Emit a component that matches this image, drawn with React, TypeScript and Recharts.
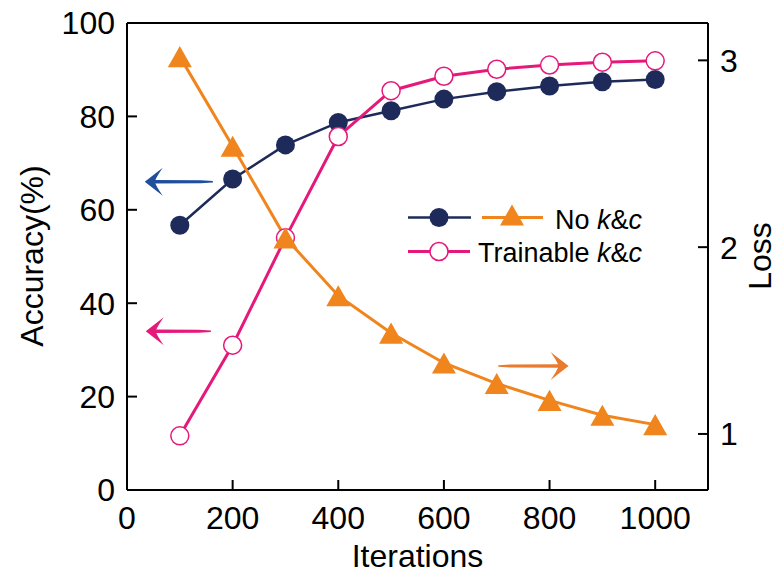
import React from 'react';
import { LineChart, Line, XAxis, YAxis, ReferenceLine, Legend, Label } from 'recharts';

const iterations = [100, 200, 300, 400, 500, 600, 700, 800, 900, 1000];
const accNoKC = [56.7, 66.6, 73.9, 78.7, 81.2, 83.7, 85.3, 86.5, 87.4, 87.9];
const accTrainable = [11.6, 31.0, 54.0, 75.7, 85.5, 88.6, 90.1, 91.0, 91.6, 91.9];
const lossNoKC = [3.02, 2.54, 2.05, 1.74, 1.54, 1.38, 1.27, 1.18, 1.1, 1.05];

const xTicks = [0, 200, 400, 600, 800, 1000];
const accTicks = [0, 20, 40, 60, 80, 100];
const lossTicks = [1, 2, 3];

const NAVY = '#1e2b5a';
const ORANGE = '#f0851e';
const PINK = '#e5197a';
const FONT = '"Liberation Sans", Arial, sans-serif';

const data = iterations.map((it, i) => ({
  iter: it,
  accNo: accNoKC[i],
  accTrain: accTrainable[i],
  loss: lossNoKC[i],
}));

// little swoosh arrows pointing each curve at its axis
const arrowShape = (color: string) => (props: any) => {
  const { x1, y1, x2, y2 } = props;
  const dx = x1 - x2;
  const dy = y1 - y2;
  const len = Math.hypot(dx, dy) || 1;
  const ux = dx / len;
  const uy = dy / len;
  const nx = -uy;
  const ny = ux;
  const L = 18;
  const W = 14;
  const notch = 10;
  const p = (a: number, b: number) => `${x1 - ux * a + nx * b},${y1 - uy * a + ny * b}`;
  const head = `M${p(0, 0)} L${p(L, W)} Q${p(notch + 1, 4)} ${p(notch, 0)} Q${p(notch + 1, -4)} ${p(L, -W)} Z`;
  const shaft = `M${p(notch - 1, 1.8)} L${p(len - 12, 1.5)} L${x2 + nx * 0.7},${y2 + ny * 0.7} L${x2 - nx * 0.7},${y2 - ny * 0.7} L${p(len - 12, -1.5)} L${p(notch - 1, -1.8)}Z`;
  return (
    <g>
      <path d={shaft} fill={color} />
      <path d={head} fill={color} />
    </g>
  );
};

const Triangle = ({ cx, cy, size = 24, color = ORANGE }: any) => {
  const h = size * 0.88;
  return (
    <polygon
      points={`${cx},${cy - h / 2} ${cx + size / 2},${cy + h / 2} ${cx - size / 2},${cy + h / 2}`}
      fill={color}
    />
  );
};

const LegendBox = () => (
  <svg width={300} height={80} style={{ overflow: 'visible' }}>
    <g transform="translate(-400,-195)">
      <line x1={408} x2={471} y1={217.5} y2={217.5} stroke={NAVY} strokeWidth={2.5} />
      <circle cx={439} cy={217.5} r={9.5} fill={NAVY} />
      <line x1={482} x2={543} y1={217.5} y2={217.5} stroke={ORANGE} strokeWidth={3} />
      <Triangle cx={512} cy={215} />
      <text x={555} y={229} fontSize={27} fontFamily={FONT} fill="#000">
        No <tspan fontStyle="italic">k</tspan>&amp;<tspan fontStyle="italic">c</tspan>
      </text>
      <line x1={408} x2={470} y1={251.5} y2={251.5} stroke={PINK} strokeWidth={3} />
      <circle cx={439} cy={251.5} r={9} fill="#fff" stroke={PINK} strokeWidth={1.5} />
      <text x={478} y={261.5} fontSize={27} fontFamily={FONT} fill="#000">
        Trainable <tspan fontStyle="italic">k</tspan>&amp;<tspan fontStyle="italic">c</tspan>
      </text>
    </g>
  </svg>
);

const tickStyle = { fill: '#000', fontSize: 32, fontFamily: FONT };
const axisStroke = { stroke: '#000', strokeWidth: 2 };

export default function App() {
  return (
    <div style={{ position: 'absolute', left: 0, top: 0, background: '#fff' }}>
      <LineChart width={777} height={576} data={data} margin={{ top: 23, right: 0, bottom: 0, left: 0 }}>
        <XAxis
          dataKey="iter"
          type="number"
          domain={[0, 1100]}
          ticks={xTicks}
          height={86}
          tickSize={-10}
          tickMargin={26}
          tick={tickStyle}
          axisLine={axisStroke}
          tickLine={axisStroke}
        >
          <Label
            content={() => (
              <text x={417.5} y={567} textAnchor="middle" fontSize={32} fontFamily={FONT} fill="#000">
                Iterations
              </text>
            )}
          />
        </XAxis>
        <YAxis
          yAxisId="acc"
          domain={[0, 100]}
          ticks={accTicks}
          width={127}
          tickSize={-10}
          tickMargin={22}
          tick={tickStyle}
          axisLine={axisStroke}
          tickLine={axisStroke}
        >
          <Label
            content={() => (
              <text
                x={32}
                y={256}
                transform="rotate(-90 32 256)"
                textAnchor="middle"
                dominantBaseline="central"
                fontSize={32}
                fontFamily={FONT}
                fill="#000"
              >
                Accuracy(%)
              </text>
            )}
          />
        </YAxis>
        <YAxis
          yAxisId="loss"
          orientation="right"
          domain={[0.7, 3.2]}
          ticks={lossTicks}
          width={69}
          tickSize={-10}
          tickMargin={22}
          tick={tickStyle}
          axisLine={axisStroke}
          tickLine={axisStroke}
        >
          <Label
            content={() => (
              <text
                x={760}
                y={256}
                transform="rotate(-90 760 256)"
                textAnchor="middle"
                dominantBaseline="central"
                fontSize={32}
                fontFamily={FONT}
                fill="#000"
              >
                Loss
              </text>
            )}
          />
        </YAxis>
        <ReferenceLine yAxisId="acc" y={100} stroke="#000" strokeWidth={2} />
        <ReferenceLine
          yAxisId="acc"
          segment={[{ x: 33.6, y: 66 }, { x: 162.6, y: 66 }]}
          shape={arrowShape('#1f4e9c')}
        />
        <ReferenceLine
          yAxisId="acc"
          segment={[{ x: 35.5, y: 34 }, { x: 158.8, y: 34 }]}
          shape={arrowShape(PINK)}
        />
        <ReferenceLine
          yAxisId="loss"
          segment={[{ x: 836, y: 1.364 }, { x: 703, y: 1.364 }]}
          shape={arrowShape('#ea7a2e')}
        />
        <Line
          yAxisId="acc"
          dataKey="accNo"
          stroke={NAVY}
          strokeWidth={2.5}
          dot={{ r: 9.5, fill: NAVY, stroke: NAVY, strokeWidth: 0 }}
          isAnimationActive={false}
        />
        <Line
          yAxisId="acc"
          dataKey="accTrain"
          stroke={PINK}
          strokeWidth={3}
          dot={{ r: 9, fill: '#fff', stroke: PINK, strokeWidth: 1.5 }}
          isAnimationActive={false}
        />
        <Line
          yAxisId="loss"
          dataKey="loss"
          stroke={ORANGE}
          strokeWidth={3}
          dot={(p: any) => <Triangle key={`tri-${p.index}`} cx={p.cx} cy={p.cy} />}
          isAnimationActive={false}
        />
        <Legend
          layout="horizontal"
          align="center"
          verticalAlign="middle"
          content={() => <LegendBox />}
          wrapperStyle={{ left: 400, top: 195, width: 300, height: 80, bottom: 'auto' }}
        />
      </LineChart>
    </div>
  );
}
